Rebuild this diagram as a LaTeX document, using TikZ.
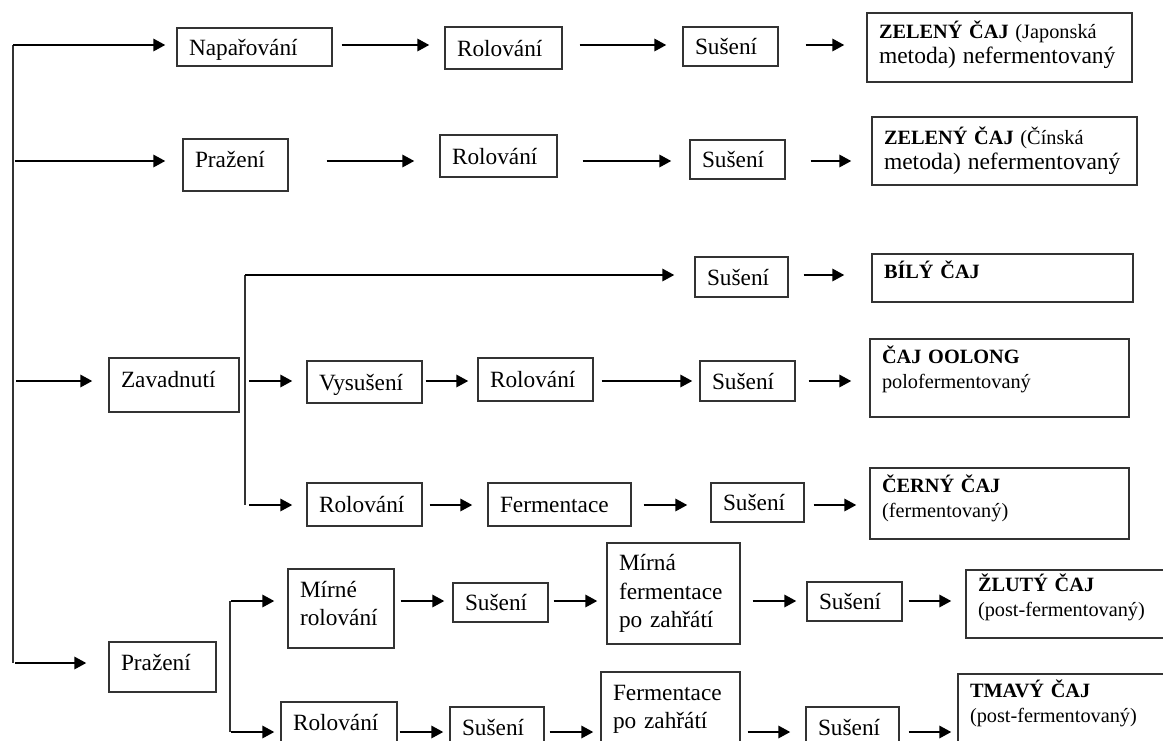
\documentclass[tikz,border=0pt]{standalone}
\usepackage{fontspec}
\setmainfont{Liberation Serif}
\usetikzlibrary{arrows.meta}
\tikzset{
  krok/.style 2 args={draw=black!80,line width=1.2pt,inner xsep=12pt,inner ysep=0pt,
    text width=#1,minimum height=#2,align=left,font=\fontsize{23.3}{28.5}\selectfont},
  jeden/.style={text height=16pt,text depth=0pt},
  caj/.style 2 args={krok={#1}{#2},font=\fontsize{20.3}{25}\selectfont},
  sipka/.style={line width=2.9pt,-{Triangle[length=12pt,width=12pt]}},
  vetev/.style={line width=1.3pt,black!80}
}
\newcommand{\vetsi}{\fontsize{23.5}{25}\selectfont}

\begin{document}
\begin{tikzpicture}[x=1pt,y=-1pt]
    \useasboundingbox (0,0) rectangle (1163,740);
    \fill[white] (0,0) rectangle (1163,740);
    \clip (0,0) rectangle (1163,740);

    \node[krok={131pt}{38pt},jeden] (napar) at (254.5,47) {Napařování};
    \node[krok={93pt}{42pt},jeden] (rol1) at (503.5,48) {Rolování};
    \node[krok={71pt}{39pt},jeden] (sus1) at (730.5,46.5) {Sušení};
    \node[caj={241pt}{69pt},text depth=36pt] (zel1) at (999.5,47.5) {\textbf{ZELENÝ ČAJ} (Japonská\\{\vetsi metoda) nefermentovaný}};

    \node[krok={81pt}{52pt},text height=16pt,text depth=12pt] (praz1) at (235.5,165) {Pražení};
    \node[krok={93pt}{42pt},jeden] (rol2) at (498.5,156) {Rolování};
    \node[krok={71pt}{39pt},jeden] (sus2) at (737.5,159.5) {Sušení};
    \node[caj={241pt}{68pt}] (zel2) at (1004.5,151) {\textbf{ZELENÝ ČAJ} (Čínská\\{\vetsi metoda) nefermentovaný}};

    \node[krok={106pt}{54pt},text height=16pt,text depth=12pt] (zavad) at (174,385) {Zavadnutí};
    \node[krok={69pt}{40pt},jeden] (sus3) at (741.5,277) {Sušení};
    \node[caj={237pt}{48pt},text height=16pt,text depth=16pt] (bily) at (1002.5,278) {\textbf{BÍLÝ ČAJ}};

    \node[krok={91pt}{42pt},jeden] (vysus) at (364.5,382) {Vysušení};
    \node[krok={91pt}{43pt},jeden] (rol3) at (535.5,379.5) {Rolování};
    \node[krok={71pt}{40pt},jeden] (sus4) at (747.5,381) {Sušení};
    \node[caj={235pt}{78pt},text depth=47pt] (oolong) at (999.5,378) {\textbf{ČAJ OOLONG}\\polofermentovaný};

    \node[krok={91pt}{43pt},jeden] (rol4) at (364.5,504.5) {Rolování};
    \node[krok={119pt}{43pt},jeden] (ferm) at (559.5,504.5) {Fermentace};
    \node[krok={69pt}{39pt},jeden] (sus5) at (757.5,502.5) {Sušení};
    \node[caj={235pt}{71pt},text depth=40pt] (cerny) at (999.5,503.5) {\textbf{ČERNÝ ČAJ}\\(fermentovaný)};

    \node[krok={83pt}{50pt},text height=16pt,text depth=10pt] (praz2) at (162.5,667) {Pražení};
    \node[krok={82pt}{79pt},text depth=39pt] (mirne) at (341,608.5) {Mírné\\rolování};
    \node[krok={71pt}{39pt},jeden] (sus6) at (500.5,602.5) {Sušení};
    \node[krok={109pt}{101pt}] (mirna) at (673.5,593.5) {Mírná\\fermentace\\po zahřátí};
    \node[krok={71pt}{39pt},jeden] (sus7) at (854.5,601.5) {Sušení};
    \node[caj={241pt}{68pt},text depth=42pt] (zluty) at (1098.5,604) {\textbf{ŽLUTÝ ČAJ}\\(post-fermentovaný)};

    \node[krok={92pt}{40pt},jeden] (rol5) at (339,722) {Rolování};
    \node[krok={70pt}{40pt},jeden] (sus8) at (497,727) {Sušení};
    \node[krok={115pt}{80pt},text depth=39pt] (ferm2) at (670.5,712) {Fermentace\\po zahřátí};
    \node[krok={69pt}{40pt},jeden] (sus9) at (852.5,727) {Sušení};
    \node[caj={241pt}{68pt},text depth=39pt] (tmavy) at (1090.5,708) {\textbf{TMAVÝ ČAJ}\\(post-fermentovaný)};

    \coordinate (k1) at (13,45);
    \coordinate (k2) at (13,161);
    \coordinate (k3) at (13,381);
    \coordinate (k4) at (13,663);
    \coordinate (z1) at (245,275);
    \coordinate (z3) at (245,381);
    \coordinate (z2) at (245,505);
    \coordinate (p1) at (230,601);
    \coordinate (p2) at (230,732);

    \draw[vetev] (k1) -- (k4);
    \draw[vetev] (z1) -- (z2);
    \draw[vetev] (p1) -- (p2);

    \draw[sipka,shorten >=11pt] (k1) -- (k1 -| napar.west);
    \draw[sipka,shorten <=9pt,shorten >=15pt] (napar.east |- k1) -- (rol1.west |- k1);
    \draw[sipka,shorten <=17pt,shorten >=16pt] (rol1.east |- k1) -- (sus1.west |- k1);
    \draw[sipka,shorten <=27pt,shorten >=22pt] (sus1.east |- k1) -- (zel1.west |- k1);

    \draw[sipka,shorten <=2pt,shorten >=17pt] (k2) -- (k2 -| praz1.west);
    \draw[sipka,shorten <=38pt,shorten >=25pt] (praz1.east |- k2) -- (rol2.west |- k2);
    \draw[sipka,shorten <=25pt,shorten >=18pt] (rol2.east |- k2) -- (sus2.west |- k2);
    \draw[sipka,shorten <=25pt,shorten >=20pt] (sus2.east |- k2) -- (zel2.west |- k2);

    \draw[sipka,shorten <=3pt,shorten >=16pt] (k3) -- (k3 -| zavad.west);
    \draw[sipka,shorten >=20pt] (z1) -- (z1 -| sus3.west);
    \draw[sipka,shorten <=15pt,shorten >=27pt] (sus3.east |- z1) -- (bily.west |- z1);

    \draw[sipka,shorten <=4pt,shorten >=14pt] (z3) -- (z3 -| vysus.west);
    \draw[sipka,shorten <=3pt,shorten >=9pt] (vysus.east |- z3) -- (rol3.west |- z3);
    \draw[sipka,shorten <=8pt,shorten >=7pt] (rol3.east |- z3) -- (sus4.west |- z3);
    \draw[sipka,shorten <=13pt,shorten >=18pt] (sus4.east |- z3) -- (oolong.west |- z3);

    \draw[sipka,shorten <=4pt,shorten >=14pt] (z2) -- (z2 -| rol4.west);
    \draw[sipka,shorten <=7pt,shorten >=15pt] (rol4.east |- z2) -- (ferm.west |- z2);
    \draw[sipka,shorten <=12pt,shorten >=23pt] (ferm.east |- z2) -- (sus5.west |- z2);
    \draw[sipka,shorten <=9pt,shorten >=13pt] (sus5.east |- z2) -- (cerny.west |- z2);

    \draw[sipka,shorten <=2pt,shorten >=22pt] (k4) -- (k4 -| praz2.west);
    \draw[sipka,shorten <=1pt,shorten >=13pt] (p1) -- (p1 -| mirne.west);
    \draw[sipka,shorten <=6pt,shorten >=8pt] (mirne.east |- p1) -- (sus6.west |- p1);
    \draw[sipka,shorten <=5pt,shorten >=9pt] (sus6.east |- p1) -- (mirna.west |- p1);
    \draw[sipka,shorten <=12pt,shorten >=10pt] (mirna.east |- p1) -- (sus7.west |- p1);
    \draw[sipka,shorten <=6pt,shorten >=14pt] (sus7.east |- p1) -- (zluty.west |- p1);

    \draw[sipka,shorten <=1pt,shorten >=6pt] (p2) -- (p2 -| rol5.west);
    \draw[sipka,shorten <=2pt,shorten >=6pt] (rol5.east |- p2) -- (sus8.west |- p2);
    \draw[sipka,shorten <=5pt,shorten >=7pt] (sus8.east |- p2) -- (ferm2.west |- p2);
    \draw[sipka,shorten <=7pt,shorten >=15pt] (ferm2.east |- p2) -- (sus9.west |- p2);
    \draw[sipka,shorten <=9pt,shorten >=6pt] (sus9.east |- p2) -- (tmavy.west |- p2);
\end{tikzpicture}
\end{document}
